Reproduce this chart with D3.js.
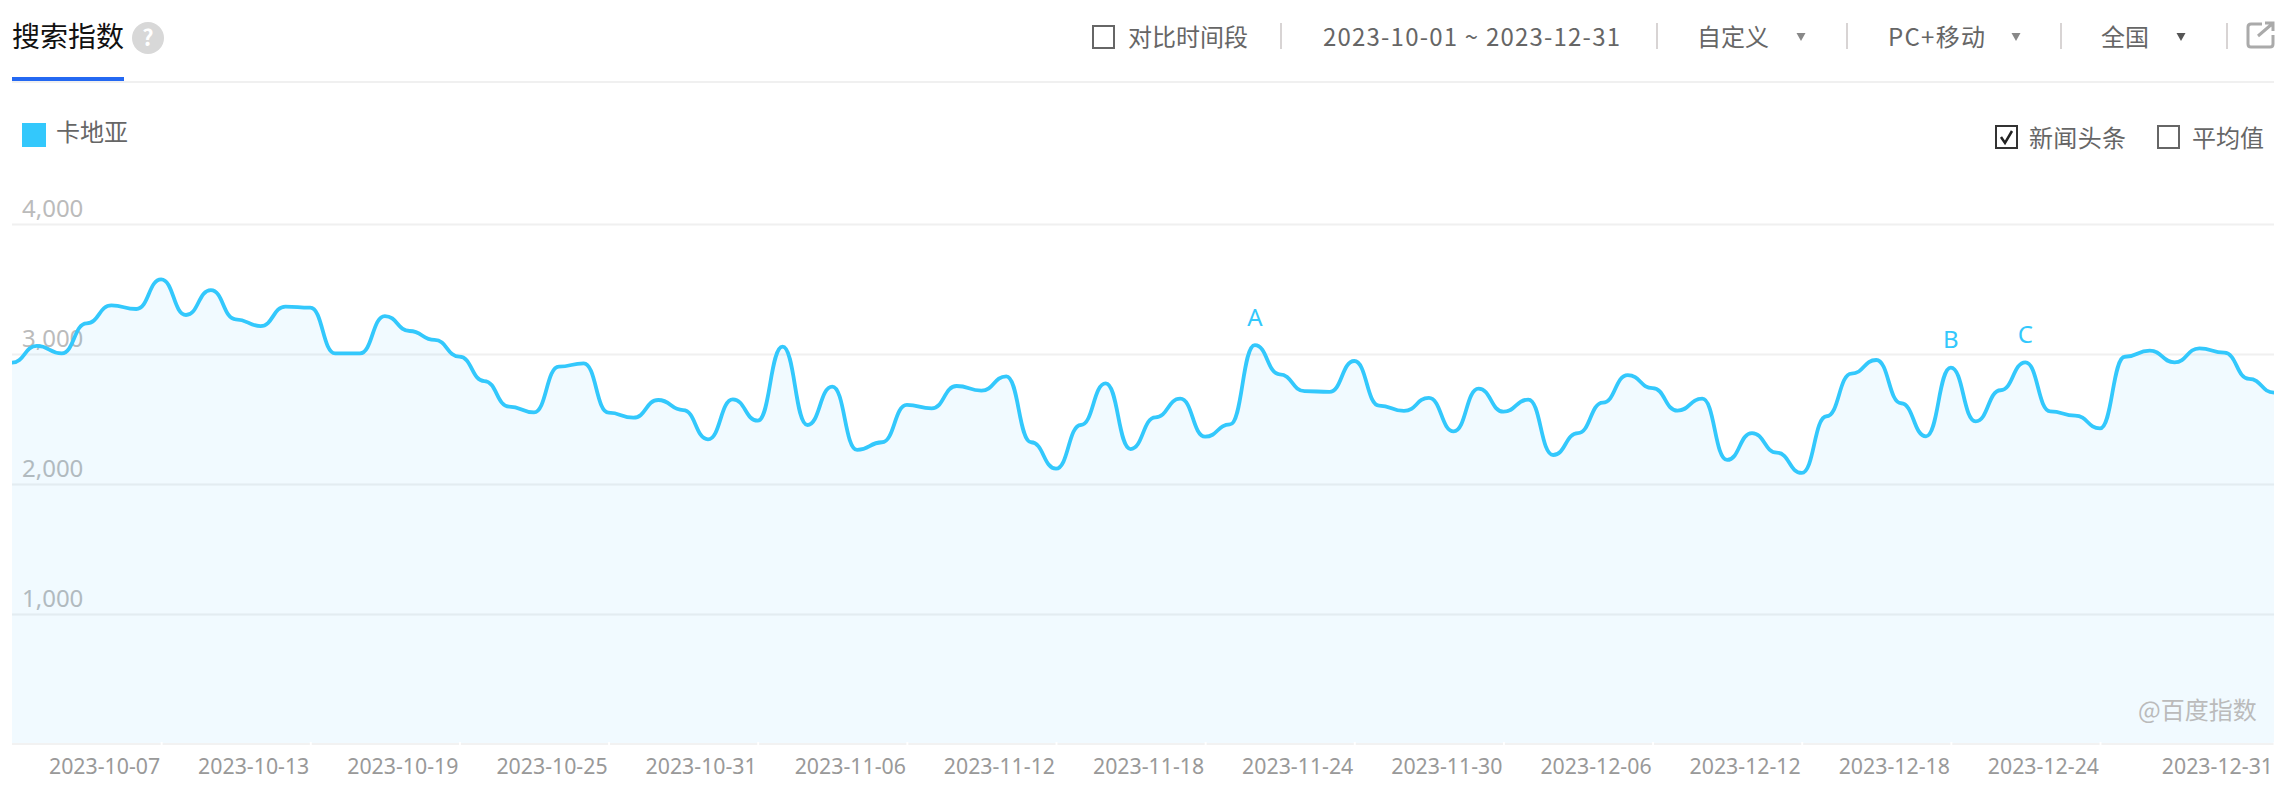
<!DOCTYPE html>
<html lang="zh">
<head>
<meta charset="utf-8">
<title>搜索指数</title>
<script src="https://cdn.jsdelivr.net/npm/d3@7/dist/d3.min.js"></script>
<style>
html,body{margin:0;padding:0;background:#fff;overflow:hidden}
svg{display:block}
text{font-family:"Noto Sans","Noto Sans CJK SC",sans-serif}
.cjk{font-family:"Noto Sans CJK SC","Noto Sans",sans-serif}
</style>
</head>
<body>
<svg id="c" width="2289" height="797"></svg>
<script>
const seriesName = "卡地亚";
const startDate = "2023-10-01";
const endDate = "2023-12-31";
const values = [
 2933,3062,3005,3236,3374,3346,3574,3300,3492,3267,3215,3364,3356,3005,3005,3292,3177,3108,2980,
 2792,2595,2551,2903,2928,2549,2510,2646,2569,2344,2651,2487,3056,2454,2749,2262,2321,2608,2582,
 2754,2718,2828,2321,2118,2454,2774,2269,2513,2656,2364,2459,3069,2844,2715,2708,2946,2603,
 2562,2662,2405,2733,2556,2649,2223,2392,2626,2838,2738,2564,2656,2185,2392,2241,2085,2521,
 2849,2954,2621,2367,2895,2482,2721,2936,2559,2526,2428,2979,3026,2936,3044,3010,2808,2703
];
const xTickLabels = ["2023-10-07","2023-10-13","2023-10-19","2023-10-25","2023-10-31","2023-11-06","2023-11-12","2023-11-18","2023-11-24","2023-11-30","2023-12-06","2023-12-12","2023-12-18","2023-12-24","2023-12-31"];
const yTicks = [1000,2000,3000,4000];
const annotationDates = ["2023-11-20","2023-12-18","2023-12-21"];
const annotationLabels = ["A","B","C"];
const toolbarItems = ["自定义","PC+移动","全国"];

const parse = d3.utcParse("%Y-%m-%d");
const dates = values.map((_, i) => d3.utcDay.offset(parse(startDate), i));
const L = 12, R = 2274, Y0 = 744, Y4K = 224;
const x = d3.scaleUtc().domain([parse(startDate), parse(endDate)]).range([L, R]);
const y = d3.scaleLinear().domain([0, 4000]).range([Y0, Y4K]);
const svg = d3.select("#c");
const BLUE = "#33c8fc";

// header
const T = (tx, ty, s, size, fill, cls) => svg.append("text").attr("x", tx).attr("y", ty)
  .attr("font-size", size).attr("fill", fill).attr("class", cls || "cjk").text(s);
T(12, 47, "搜索指数", 28, "#111");
svg.append("circle").attr("cx",148).attr("cy",38).attr("r",16).attr("fill","#d8d8d8");
T(148, 46, "?", 22, "#fff", "").attr("text-anchor","middle").attr("font-weight",700);
svg.append("rect").attr("x",12).attr("y",81).attr("width",R-L).attr("height",2).attr("fill","#f0f0f0");
svg.append("rect").attr("x",12).attr("y",77).attr("width",112).attr("height",4).attr("fill","#2468f2");

const box = (bx, by, col) => svg.append("rect").attr("x",bx+1).attr("y",by+1).attr("width",21).attr("height",22)
  .attr("fill","#fff").attr("stroke",col).attr("stroke-width",2);
const sep = sx => svg.append("rect").attr("x",sx-1).attr("y",23).attr("width",2).attr("height",26).attr("fill","#d8d4d4");
const tri = (tx, col) => svg.append("path").attr("d",`M${tx-4.5},33 L${tx+4.5},33 L${tx},41 Z`).attr("fill",col);

box(1092,25,"#666");
T(1128,46,"对比时间段",24,"#666");
sep(1281);
T(1323,46,`${startDate} ~ ${endDate}`,24,"#666","").attr("textLength",297);
sep(1657);
T(1697,46,toolbarItems[0],24,"#666"); tri(1801,"#888");
sep(1847);
T(1888,46,toolbarItems[1],24,"#666").attr("textLength",97); tri(2016,"#888");
sep(2061);
T(2101,46,toolbarItems[2],24,"#666"); tri(2181,"#555");
sep(2227);
svg.append("path").attr("d","M2262,24 H2251 Q2248,24 2248,27 V44 Q2248,47 2251,47 H2270 Q2273,47 2273,44 V35")
  .attr("fill","none").attr("stroke","#aaa").attr("stroke-width",3);
svg.append("path").attr("d","M2258,36 L2272,24 M2265,23 H2273 V31")
  .attr("fill","none").attr("stroke","#aaa").attr("stroke-width",3);

// legend
svg.append("rect").attr("x",22).attr("y",123).attr("width",24).attr("height",24).attr("fill",BLUE);
T(56,141,seriesName,24,"#666");
box(1995,125,"#333");
svg.append("path").attr("d","M2001,137 L2005,143 L2012,131").attr("fill","none").attr("stroke","#222").attr("stroke-width",2.5);
T(2029,147,"新闻头条",24,"#666").attr("textLength",97);
box(2157,125,"#666");
T(2192,147,"平均值",24,"#666");

// y axis: full-width grid lines with labels sitting above them
const yAxis = d3.axisRight(y).tickValues(yTicks).tickSize(R-L).tickFormat(d3.format(","));
const gy = svg.append("g").attr("transform",`translate(${L},0)`).call(yAxis);
gy.select(".domain").remove();
gy.selectAll("line").attr("stroke","#f0f0f0").attr("stroke-width",2);
gy.selectAll("text").attr("x",10).attr("dy",null).attr("y",-8).attr("text-anchor","start")
  .attr("font-size",24).attr("fill","#bbb").style("font-family",'"Noto Sans",sans-serif');

// area + line
svg.append("path").datum(values)
  .attr("d", d3.area().x((d,i)=>x(dates[i])).y0(y(0)).y1(d=>y(d)).curve(d3.curveBumpX))
  .attr("fill","#33b8ff").attr("fill-opacity",0.07);
svg.append("path").datum(values)
  .attr("d", d3.line().x((d,i)=>x(dates[i])).y(d=>y(d)).curve(d3.curveBumpX))
  .attr("fill","none").attr("stroke",BLUE).attr("stroke-width",3.8);

// annotations
svg.selectAll("text.ann").data(annotationLabels).join("text").attr("class","ann")
  .attr("x",(d,i)=>x(parse(annotationDates[i])))
  .attr("y",(d,i)=>y(values[d3.utcDay.count(parse(startDate),parse(annotationDates[i]))])-19.5)
  .attr("text-anchor","middle").attr("font-size",24).attr("fill",BLUE).text(d=>d);

// x axis
svg.append("rect").attr("x",L).attr("y",743).attr("width",R-L).attr("height",2).attr("fill","#f2f2f2");
const tickDates = xTickLabels.map(s=>parse(s));
const xAxis = d3.axisBottom(x).tickValues(tickDates).tickSize(0).tickFormat(d3.utcFormat("%Y-%m-%d"));
const gx = svg.append("g").attr("transform",`translate(0,${Y0})`).call(xAxis);
gx.select(".domain").remove();
gx.selectAll("text").attr("x",-1.5).attr("y",30).attr("dy",null).attr("text-anchor","end")
  .attr("font-size",21.3).attr("fill","#999").style("font-family",'"Noto Sans",sans-serif');
gx.selectAll("line").attr("y1",-2).attr("y2",1).attr("stroke","#fff").attr("stroke-width",2);

// watermark
T(2138,719,"@百度指数",24,"#bbb");
</script>
</body>
</html>
